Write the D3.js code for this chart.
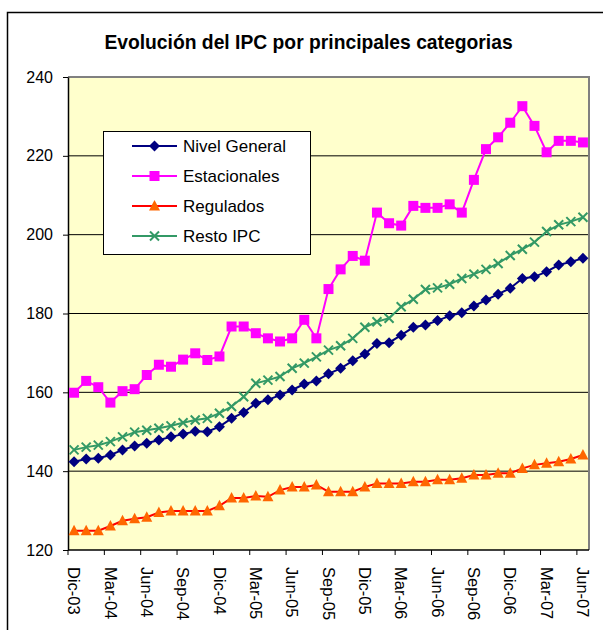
<!DOCTYPE html>
<html>
<head>
<meta charset="utf-8">
<script src="https://cdn.jsdelivr.net/npm/d3@7"></script>
<style>
  body { margin: 0; background: #fff; }
  svg { display: block; font-family: "Liberation Sans", Arial, sans-serif; }
</style>
</head>
<body>
<div class="chart"></div>
<script>
// categories (monthly, Dic-03 .. Jun-07)
const months = [
  'Dic-03', 'Ene-04', 'Feb-04', 'Mar-04', 'Abr-04', 'May-04', 'Jun-04', 'Jul-04', 'Ago-04', 'Sep-04', 'Oct-04', 'Nov-04',
  'Dic-04', 'Ene-05', 'Feb-05', 'Mar-05', 'Abr-05', 'May-05', 'Jun-05', 'Jul-05', 'Ago-05', 'Sep-05', 'Oct-05', 'Nov-05',
  'Dic-05', 'Ene-06', 'Feb-06', 'Mar-06', 'Abr-06', 'May-06', 'Jun-06', 'Jul-06', 'Ago-06', 'Sep-06', 'Oct-06', 'Nov-06',
  'Dic-06', 'Ene-07', 'Feb-07', 'Mar-07', 'Abr-07', 'May-07', 'Jun-07'
];

const nivelGeneral = [142.4, 143.1, 143.3, 144.1, 145.4, 146.4, 147.1, 147.9, 148.7, 149.4, 150.1, 150.0,
  151.3, 153.4, 154.9, 157.2, 158.1, 159.3, 160.6, 162.1, 162.9, 164.7, 166.1, 168.0,
  169.7, 172.4, 172.6, 174.5, 176.5, 177.1, 178.2, 179.4, 180.2, 181.9, 183.4, 184.9,
  186.4, 188.9, 189.3, 190.6, 192.3, 193.1, 194.0];

const estacionales = [159.9, 162.9, 161.3, 157.4, 160.3, 160.8, 164.4, 167.0, 166.5, 168.3, 169.9, 168.2,
  169.1, 176.7, 176.7, 175.0, 173.7, 172.9, 173.7, 178.4, 173.7, 186.2, 191.2, 194.6,
  193.4, 205.6, 202.9, 202.3, 207.3, 206.8, 206.8, 207.7, 205.6, 213.9, 221.7, 224.7,
  228.4, 232.6, 227.6, 220.9, 223.8, 223.8, 223.4];

const regulados = [124.9, 124.9, 124.9, 126.1, 127.4, 127.9, 128.3, 129.5, 129.9, 129.9, 129.9, 129.9,
  131.2, 133.2, 133.2, 133.7, 133.5, 135.2, 136.0, 136.0, 136.5, 134.8, 134.8, 134.8,
  136.0, 136.9, 136.9, 136.9, 137.3, 137.3, 137.8, 137.8, 138.2, 139.0, 139.0, 139.5,
  139.5, 140.7, 141.6, 142.0, 142.4, 143.1, 144.1];

const restoIPC = [145.4, 146.1, 146.6, 147.5, 148.7, 149.9, 150.4, 150.9, 151.5, 152.3, 153.0, 153.4,
  154.7, 156.4, 158.9, 162.3, 163.1, 164.0, 166.1, 167.4, 169.0, 170.7, 171.8, 173.7,
  176.5, 177.9, 178.8, 181.7, 183.6, 186.1, 186.5, 187.4, 188.9, 190.0, 191.2, 192.7,
  194.7, 196.3, 198.1, 200.8, 202.5, 203.3, 204.4];

const yTicks = [120, 140, 160, 180, 200, 220, 240];
const seriesNames = ['Nivel General', 'Estacionales', 'Regulados', 'Resto IPC'];

// ---------------------------------------------------------------
const width = 603;
const height = 630;
const plot = { left: 68, right: 589, top: 77, bottom: 550 };

const series = [
  { name: seriesNames[0], values: nivelGeneral, line: '#000080', fill: '#000080', marker: 'diamond' },
  { name: seriesNames[1], values: estacionales, line: '#FF00FF', fill: '#FF00FF', marker: 'square' },
  { name: seriesNames[2], values: regulados, line: '#FF0000', fill: '#FF6600', marker: 'triangle' },
  { name: seriesNames[3], values: restoIPC, line: '#339966', fill: '#339966', marker: 'cross' }
];

const svg = d3.select('.chart')
  .append('svg')
  .attr('width', width)
  .attr('height', height);

// chart area border
svg.append('rect')
  .attr('x', 7.5)
  .attr('y', 12.5)
  .attr('width', 640)
  .attr('height', 660)
  .attr('fill', '#fff')
  .attr('stroke', '#000')
  .attr('stroke-width', 1.5);

// title
svg.append('text')
  .attr('x', 308.5)
  .attr('y', 49)
  .attr('text-anchor', 'middle')
  .style('font-size', '19.3px')
  .style('font-weight', 'bold')
  .text('Evolución del IPC por principales categorias');

const x = d3.scaleBand()
  .domain(months)
  .range([plot.left, plot.right])
  .padding(0);

const y = d3.scaleLinear()
  .domain([120, 240])
  .range([plot.bottom, plot.top]);

const cx = (i) => x(months[i]) + x.bandwidth() / 2;

// plot area background
svg.append('rect')
  .attr('x', plot.left)
  .attr('y', plot.top)
  .attr('width', plot.right - plot.left)
  .attr('height', plot.bottom - plot.top)
  .attr('fill', '#FFFFCC');

// gridlines
svg.append('g')
  .selectAll('line')
  .data(yTicks.filter((d) => d > 120 && d < 240))
  .enter().append('line')
  .attr('x1', plot.left)
  .attr('x2', plot.right)
  .attr('y1', (d) => y(d))
  .attr('y2', (d) => y(d))
  .attr('stroke', '#000')
  .attr('stroke-width', 1);

// plot area border (top + right gray)
svg.append('path')
  .attr('d', `M ${plot.left} ${plot.top} H ${plot.right} V ${plot.bottom}`)
  .attr('fill', 'none')
  .attr('stroke', '#808080')
  .attr('stroke-width', 2);

// y axis
const yAxis = svg.append('g')
  .attr('transform', `translate(${plot.left},0)`)
  .call(d3.axisLeft(y).tickValues(yTicks).tickSize(5).tickPadding(10).tickSizeOuter(0));
yAxis.select('.domain').attr('stroke', '#000').attr('stroke-width', 1.5);
yAxis.selectAll('text')
  .style('font-size', '16px')
  .style('font-family', '"Liberation Sans", Arial, sans-serif')
  .attr('fill', '#000');

// x axis: tick marks on category boundaries every 3 months, labels centred
const labelMonths = months.filter((d, i) => i % 3 === 0);

svg.append('line')
  .attr('x1', plot.left)
  .attr('x2', plot.right)
  .attr('y1', plot.bottom)
  .attr('y2', plot.bottom)
  .attr('stroke', '#000')
  .attr('stroke-width', 1.5);

svg.append('g')
  .selectAll('line')
  .data(labelMonths)
  .enter().append('line')
  .attr('x1', (d) => x(d))
  .attr('x2', (d) => x(d))
  .attr('y1', plot.bottom)
  .attr('y2', plot.bottom + 5)
  .attr('stroke', '#000');

svg.append('g')
  .selectAll('text')
  .data(labelMonths)
  .enter().append('text')
  .attr('transform', (d) => `translate(${x(d) + x.bandwidth() / 2},${plot.bottom + 17}) rotate(90)`)
  .attr('dy', '0.35em')
  .attr('text-anchor', 'start')
  .style('font-size', '16.5px')
  .text((d) => d);

// marker shapes
function markerPath(type) {
  switch (type) {
    case 'diamond': return 'M0,-5.5 L5.5,0 L0,5.5 L-5.5,0 Z';
    case 'square': return 'M-5,-5 H5 V5 H-5 Z';
    case 'triangle': return 'M0,-6 L5.5,4.5 L-5.5,4.5 Z';
    default: return 'M-4.5,-4.5 L4.5,4.5 M-4.5,4.5 L4.5,-4.5';
  }
}

const line = d3.line()
  .x((d, i) => cx(i))
  .y((d) => y(d));

series.forEach((s) => {
  const g = svg.append('g');

  g.append('path')
    .attr('d', line(s.values))
    .attr('fill', 'none')
    .attr('stroke', s.line)
    .attr('stroke-width', 2);

  g.selectAll('path.marker')
    .data(s.values)
    .enter().append('path')
    .attr('class', 'marker')
    .attr('transform', (d, i) => `translate(${cx(i)},${y(d)})`)
    .attr('d', markerPath(s.marker))
    .attr('fill', s.marker === 'cross' ? 'none' : s.fill)
    .attr('stroke', s.fill)
    .attr('stroke-width', s.marker === 'cross' ? 2 : 0);
});

// legend
const legend = svg.append('g');
legend.append('rect')
  .attr('x', 103.5)
  .attr('y', 131.5)
  .attr('width', 207)
  .attr('height', 123)
  .attr('fill', '#fff')
  .attr('stroke', '#000')
  .attr('stroke-width', 1);

const item = legend.selectAll('g.item')
  .data(series)
  .enter().append('g')
  .attr('class', 'item')
  .attr('transform', (d, i) => `translate(0,${146 + i * 30})`);

item.append('line')
  .attr('x1', 132)
  .attr('x2', 177)
  .attr('stroke', (d) => d.line)
  .attr('stroke-width', 2);

item.append('path')
  .attr('transform', 'translate(154.5,0)')
  .attr('d', (d) => markerPath(d.marker))
  .attr('fill', (d) => (d.marker === 'cross' ? 'none' : d.fill))
  .attr('stroke', (d) => d.fill)
  .attr('stroke-width', (d) => (d.marker === 'cross' ? 2 : 0));

item.append('text')
  .attr('x', 183)
  .attr('dy', '0.35em')
  .style('font-size', '17px')
  .text((d) => d.name);
</script>
</body>
</html>
